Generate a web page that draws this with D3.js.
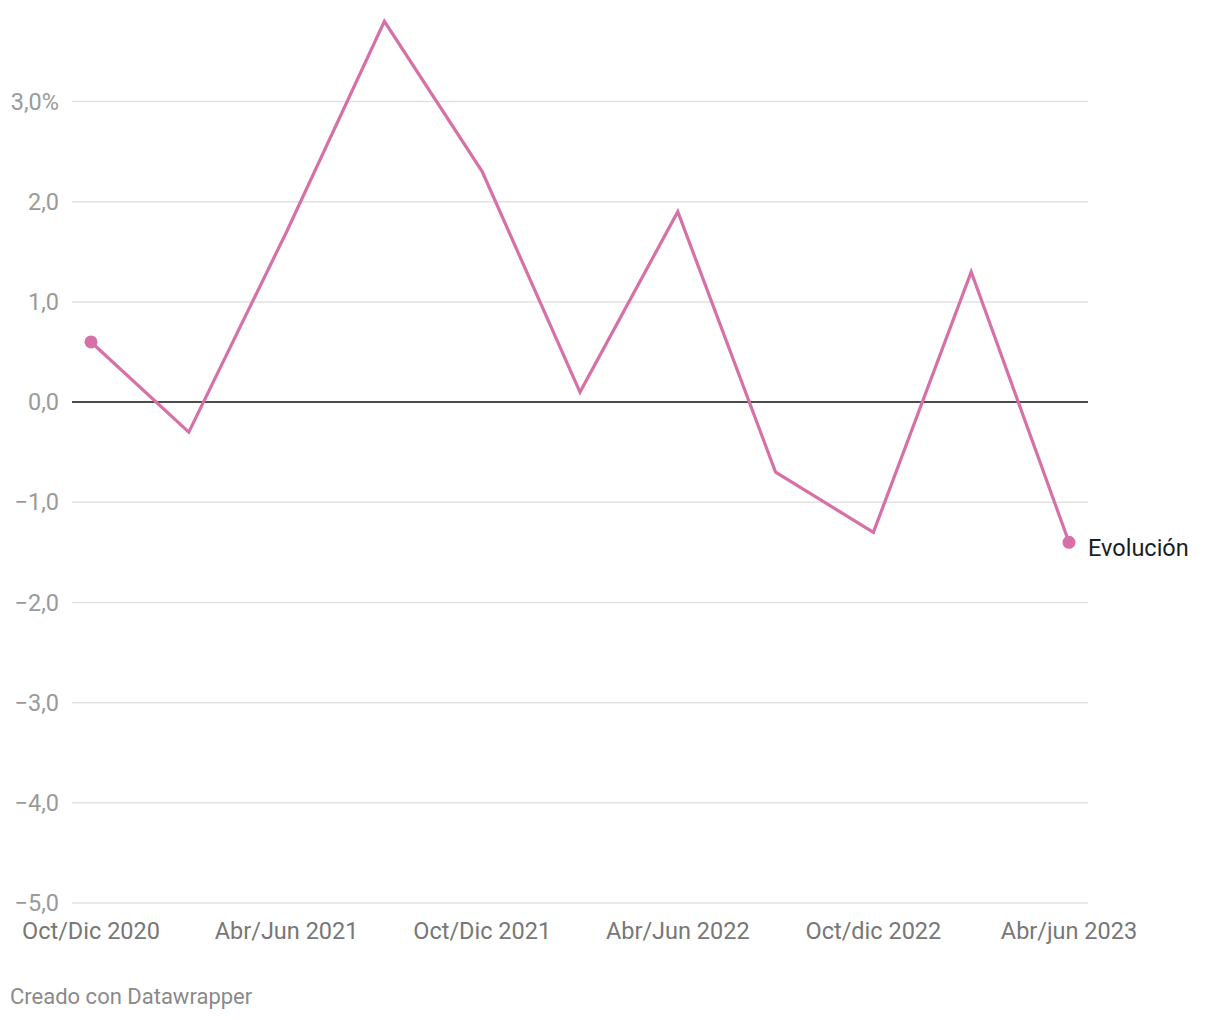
<!DOCTYPE html>
<html><head><meta charset="utf-8">
<script src="https://cdn.jsdelivr.net/npm/d3@7"></script>
<style>body{margin:0;background:#fff;font-family:Roboto,sans-serif}</style>
</head><body><svg id="c" width="1220" height="1020"></svg>
<script>
const categories = ["Oct/Dic 2020","Ene/Mar 2021","Abr/Jun 2021","Jul/Sep 2021","Oct/Dic 2021","Ene/Mar 2022","Abr/Jun 2022","Jul/Sep 2022","Oct/dic 2022","Ene/mar 2023","Abr/jun 2023"];
const values = [0.6, -0.3, 1.7, 3.8, 2.3, 0.1, 1.9, -0.7, -1.3, 1.3, -1.4];
const xTickLabels = ["Oct/Dic 2020","Abr/Jun 2021","Oct/Dic 2021","Abr/Jun 2022","Oct/dic 2022","Abr/jun 2023"];
const yTicks = [-5,-4,-3,-2,-1,0,1,2,3];
const seriesName = "Evolución";

const svg = d3.select("#c");
const x = d3.scalePoint().domain(categories).range([91,1069]);
const y = d3.scaleLinear().domain([-5,3]).range([903,101.5]);
const fmt = v => (v<0?"\u2212":"") + Math.abs(v).toFixed(1).replace(".",",") + (v===3?"%":"");

const g = svg.append("g");
yTicks.forEach(t=>{
  if(t!==0) g.append("line").attr("x1",72).attr("x2",1088).attr("y1",y(t)).attr("y2",y(t)).attr("stroke","#e2e2e2").attr("stroke-width",1.5);
  g.append("text").attr("x",59).attr("y",y(t)).attr("dy","0.35em").attr("text-anchor","end")
   .attr("fill","#9a9a9a").attr("font-size",23.5).text(fmt(t));
});
g.append("line").attr("x1",72).attr("x2",1088).attr("y1",y(0)).attr("y2",y(0)).attr("stroke","#111").attr("stroke-width",1.5);

xTickLabels.forEach(l=>{
  g.append("text").attr("x",x(l)).attr("y",939).attr("text-anchor","middle")
   .attr("fill","#777").attr("font-size",23.5).text(l);
});

const color = "#d670a7";
const line = d3.line().x((d,i)=>x(categories[i])).y(d=>y(d));
g.append("path").datum(values).attr("d",line).attr("fill","none").attr("stroke",color).attr("stroke-width",3.2).attr("stroke-linejoin","miter");
[0, values.length-1].forEach(i=>{
  g.append("circle").attr("cx",x(categories[i])).attr("cy",y(values[i])).attr("r",6.5).attr("fill",color);
});
g.append("text").attr("x",1088).attr("y",y(values[values.length-1])+5).attr("dy","0.35em")
 .attr("fill","#1d1d1d").attr("font-size",23.5).text(seriesName);

svg.append("text").attr("x",10).attr("y",1004).attr("fill","#8a8a8a").attr("font-size",22).text("Creado con Datawrapper");
</script></body></html>
